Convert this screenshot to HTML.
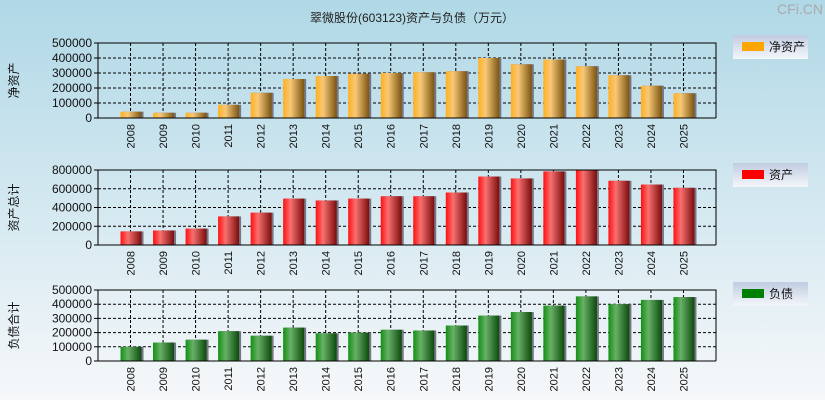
<!DOCTYPE html>
<html><head><meta charset="utf-8"><style>
body{margin:0;width:825px;height:400px;overflow:hidden;font-family:"Liberation Sans","Noto Sans CJK SC",sans-serif}
</style></head><body>
<svg id="chart" width="825" height="400" xmlns="http://www.w3.org/2000/svg" style="display:block">
<defs>
<linearGradient id="bg" x1="0" y1="0" x2="0" y2="1"><stop offset="0" stop-color="#b0d8e6"/><stop offset="1" stop-color="#f6f8fa"/></linearGradient>
<linearGradient id="gO" x1="0" x2="1"><stop offset="0" stop-color="#ffb020"/><stop offset="0.35" stop-color="#f8c878"/><stop offset="1" stop-color="#7a5410"/></linearGradient>
<linearGradient id="gR" x1="0" x2="1"><stop offset="0" stop-color="#ff1010"/><stop offset="0.35" stop-color="#f87070"/><stop offset="1" stop-color="#7a0c0c"/></linearGradient>
<linearGradient id="gG" x1="0" x2="1"><stop offset="0" stop-color="#129012"/><stop offset="0.35" stop-color="#68b068"/><stop offset="1" stop-color="#0c4a0c"/></linearGradient>
<linearGradient id="lg" x1="0" y1="0" x2="0" y2="1"><stop offset="0" stop-color="#c0cce0"/><stop offset="1" stop-color="#f4f6fa"/></linearGradient>
</defs>
<rect width="825" height="400" fill="url(#bg)"/>
<text x="412" y="22" text-anchor="middle" font-size="12" fill="#222">翠微股份(603123)资产与负债（万元）</text>
<text x="800" y="14" text-anchor="middle" font-size="14" fill="#aaa">CFi.CN</text>
<g id="plots"></g>
</svg>
<script>
const years=['2008','2009','2010','2011','2012','2013','2014','2015','2016','2017','2018','2019','2020','2021','2022','2023','2024','2025'];
const netAssets=[42000,35000,35000,88000,168000,260000,280000,295000,300000,305000,312000,400000,358000,390000,345000,285000,215000,165000];
const totalAssets=[145000,155000,175000,305000,345000,495000,475000,495000,520000,520000,560000,730000,710000,785000,800000,685000,645000,610000];
const liabilities=[100000,130000,150000,210000,178000,235000,195000,200000,220000,215000,250000,320000,345000,390000,455000,400000,430000,450000];
const ticks1=[0,100000,200000,300000,400000,500000];
const ticks2=[0,200000,400000,600000,800000];
const ticks3=[0,100000,200000,300000,400000,500000];

const NS='http://www.w3.org/2000/svg';
const root=document.getElementById('plots');
function el(tag,attrs,parent){const e=document.createElementNS(NS,tag);for(const k in attrs)e.setAttribute(k,attrs[k]);(parent||root).appendChild(e);return e;}
const X0=98,X1=716,step=(X1-X0)/(years.length+1);
function xScale(i){return X0+step*(i+1);}

function panel(key,top,bottom,vals,ticks,max,fill,yTitle,legendText,legendColor,legY){
  const g=el('g',{});
  
  
  const y=v=>bottom-(v/max)*(bottom-top);
  // grid
  ticks.forEach(t=>{
    if(t>0){const l=el('line',{x1:X0,x2:X1,y1:y(t),y2:y(t),stroke:'#000','stroke-dasharray':'3,2','stroke-width':1},g);
    }
    const tl=el('line',{x1:X0-4,x2:X0,y1:y(t),y2:y(t),stroke:'#000'},g);
    
    const tx=el('text',{x:X0-6,y:y(t)+4,'text-anchor':'end','font-size':12,fill:'#111'},g);
    tx.textContent=t;
    
  });
  years.forEach((yr,i)=>{
    const x=xScale(i);
    const vl=el('line',{x1:x,x2:x,y1:top,y2:bottom,stroke:'#000','stroke-dasharray':'3,2'},g);
    
    const sh=el('rect',{x:x-10+2,y:y(vals[i]),width:21,height:bottom-y(vals[i]),fill:'#778'},g);
    
    const b=el('rect',{x:x-10,y:y(vals[i]),width:21,height:bottom-y(vals[i]),fill:fill},g);
    
    const t=el('text',{x:0,y:0,'font-size':11,fill:'#111','text-anchor':'end',transform:`translate(${x+4},${bottom+6}) rotate(-90)`},g);
    t.textContent=yr;
    
  });
  const fr=el('path',{d:`M${X0},${top} L${X1},${top} L${X1},${bottom} M${X0},${top} L${X0},${bottom} L${X1},${bottom}`,fill:'none',stroke:'#000','stroke-width':1},g);
  
  const my=(top+bottom)/2;
  const yt=el('text',{x:0,y:0,'font-size':12,fill:'#111','text-anchor':'middle',transform:`translate(${18},${my}) rotate(-90)`},g);
  yt.textContent=yTitle;
  
  const lg=el('g',{},g);
  
  el('rect',{x:733,y:legY,width:75,height:24,fill:'url(#lg)'},lg);
  el('rect',{x:742,y:legY+7,width:22,height:9,fill:legendColor},lg);
  const lt=el('text',{x:769,y:legY+16,'font-size':12,fill:'#111'},lg);
  lt.textContent=legendText;
  
}
panel('net-assets',43,118,netAssets,ticks1,500000,'url(#gO)','净资产','净资产','#ffa500',35);
panel('total-assets',170,245,totalAssets,ticks2,800000,'url(#gR)','资产总计','资产','#ff0000',163);
panel('liabilities',290,361,liabilities,ticks3,500000,'url(#gG)','负债合计','负债','#008000',282);
</script>
</body></html>
